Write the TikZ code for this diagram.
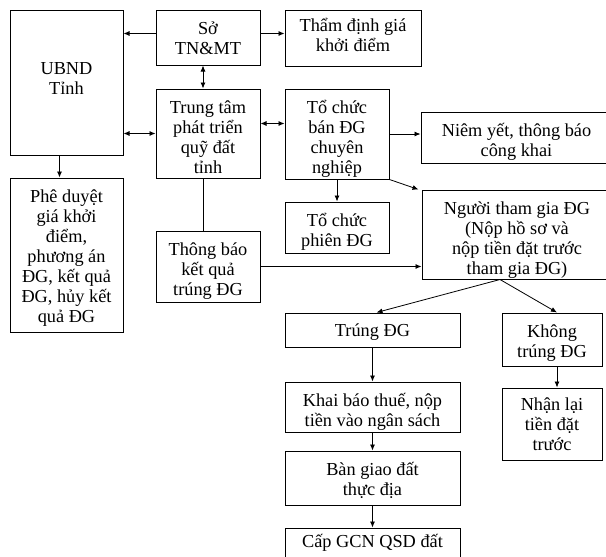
\documentclass[tikz,border=0pt]{standalone}
\usepackage{fontspec}
\setmainfont{Liberation Serif}
\usetikzlibrary{arrows.meta}
\begin{document}
\begin{tikzpicture}[x=1pt,y=-1pt,
  box/.style={draw, line width=1pt, inner sep=0pt},
  txt/.style={anchor=north, yshift=-12pt, align=center, inner sep=0pt,
    font=\fontsize{18.3}{20}\selectfont, execute at begin node={\rule{0pt}{17pt}}},
  arr/.style={-{Latex[length=6pt,width=5pt]}, line width=0.8pt},
  darr/.style={{Latex[length=6pt,width=5pt]}-{Latex[length=6pt,width=5pt]}, line width=0.8pt}]
\useasboundingbox (0,0) rectangle (606,557);
\clip (0,0) rectangle (606,557);
% left column
\node[box, minimum width=113pt, minimum height=145pt, label={[txt, yshift=-41pt]north:UBND\\Tỉnh}] (ubnd) at (66.5,82.5){};
\node[box, minimum width=113pt, minimum height=154pt, label={[txt]north:Phê duyệt\\giá khởi\\điểm,\\phương án\\ĐG, kết quả\\ĐG, hủy kết\\quả ĐG}] (pheduyet) at (66.5,255){};
% middle column
\node[box, minimum width=104pt, minimum height=55pt, label={[txt]north:Sở\\TN\&MT}] (so) at (208,37.5){};
\node[box, minimum width=104pt, minimum height=89pt, label={[txt]north:Trung tâm\\phát triển\\quỹ đất\\tỉnh}] (trungtam) at (208,133.5){};
\node[box, minimum width=104pt, minimum height=71pt, label={[txt]north:Thông báo\\kết quả\\trúng ĐG}] (thongbao) at (208,266.5){};
% right part
\node[box, minimum width=136pt, minimum height=56pt, label={[txt, yshift=3pt]north:Thẩm định giá\\khởi điểm}] (thamdinh) at (353,38){};
\node[box, minimum width=104pt, minimum height=90pt, label={[txt]north:Tổ chức\\bán ĐG\\chuyên\\nghiệp}] (tochuc) at (337,134){};
\node[box, minimum width=104pt, minimum height=51pt, label={[txt]north:Tổ chức\\phiên ĐG}] (phien) at (337,227.5){};
\node[box, minimum width=191pt, minimum height=51pt, label={[txt]north:Niêm yết, thông báo\\công khai}] (niemyet) at (516.5,137.5){};
\node[box, minimum width=190pt, minimum height=89pt, label={[txt]north:Người tham gia ĐG\\(Nộp hồ sơ và\\nộp tiền đặt trước\\tham gia ĐG)}] (nguoi) at (517,234.5){};
\node[box, minimum width=175pt, minimum height=34pt, label={[txt, yshift=5pt]north:Trúng ĐG}] (trung) at (372.5,330){};
\node[box, minimum width=175pt, minimum height=50pt, label={[txt]north:Khai báo thuế, nộp\\tiền vào ngân sách}] (khaibao) at (372.5,407){};
\node[box, minimum width=175pt, minimum height=54pt, label={[txt]north:Bàn giao đất\\thực địa}] (bangiao) at (372.5,478){};
\node[box, minimum width=175pt, minimum height=50pt, label={[txt, yshift=9pt]north:Cấp GCN QSD đất}] (capgcn) at (372.5,553){};
\node[box, minimum width=100pt, minimum height=53pt, label={[txt]north:Không\\trúng ĐG}] (khong) at (552,339.5){};
\node[box, minimum width=100pt, minimum height=72pt, label={[txt, yshift=2pt]north:Nhận lại\\tiền đặt\\trước}] (nhanlai) at (552,424){};
% connectors
\draw[arr] ([yshift=4pt]so.west) -- ([yshift=4pt]so.west -| ubnd.east);
\draw[arr] ([yshift=4pt]so.east) -- ([yshift=4pt]so.east -| thamdinh.west);
\draw[darr] ([xshift=-5pt]so.south) -- ([xshift=-5pt]trungtam.north);
\draw[darr] (trungtam.west) -- (trungtam.west -| ubnd.east);
\draw[darr] ([yshift=10pt]trungtam.east) -- ([yshift=10pt]trungtam.east -| tochuc.west);
\draw[arr] ([xshift=-7pt]ubnd.south) -- ([xshift=-7pt]pheduyet.north);
\draw[arr] (tochuc.east) -- (tochuc.east -| niemyet.west);
\draw[arr] (tochuc.south) -- (phien.north);
\draw[arr] (tochuc.south east) -- ([xshift=-3pt]nguoi.north west);
\draw[] ([xshift=-5pt]trungtam.south) -- ([xshift=-5pt]thongbao.north);
\draw[arr] (thongbao.east) -- (thongbao.east -| nguoi.west);
\draw[arr] ([xshift=-17pt]nguoi.south) -- ([xshift=4pt]trung.north);
\draw[arr] ([xshift=-17pt]nguoi.south) -- ([xshift=5pt]khong.north);
\draw[arr] (trung.south) -- (khaibao.north);
\draw[arr] (khaibao.south) -- (bangiao.north);
\draw[arr] (bangiao.south) -- (capgcn.north);
\draw[arr] ([xshift=5pt]khong.south) -- ([xshift=5pt]nhanlai.north);
\end{tikzpicture}
\end{document}
